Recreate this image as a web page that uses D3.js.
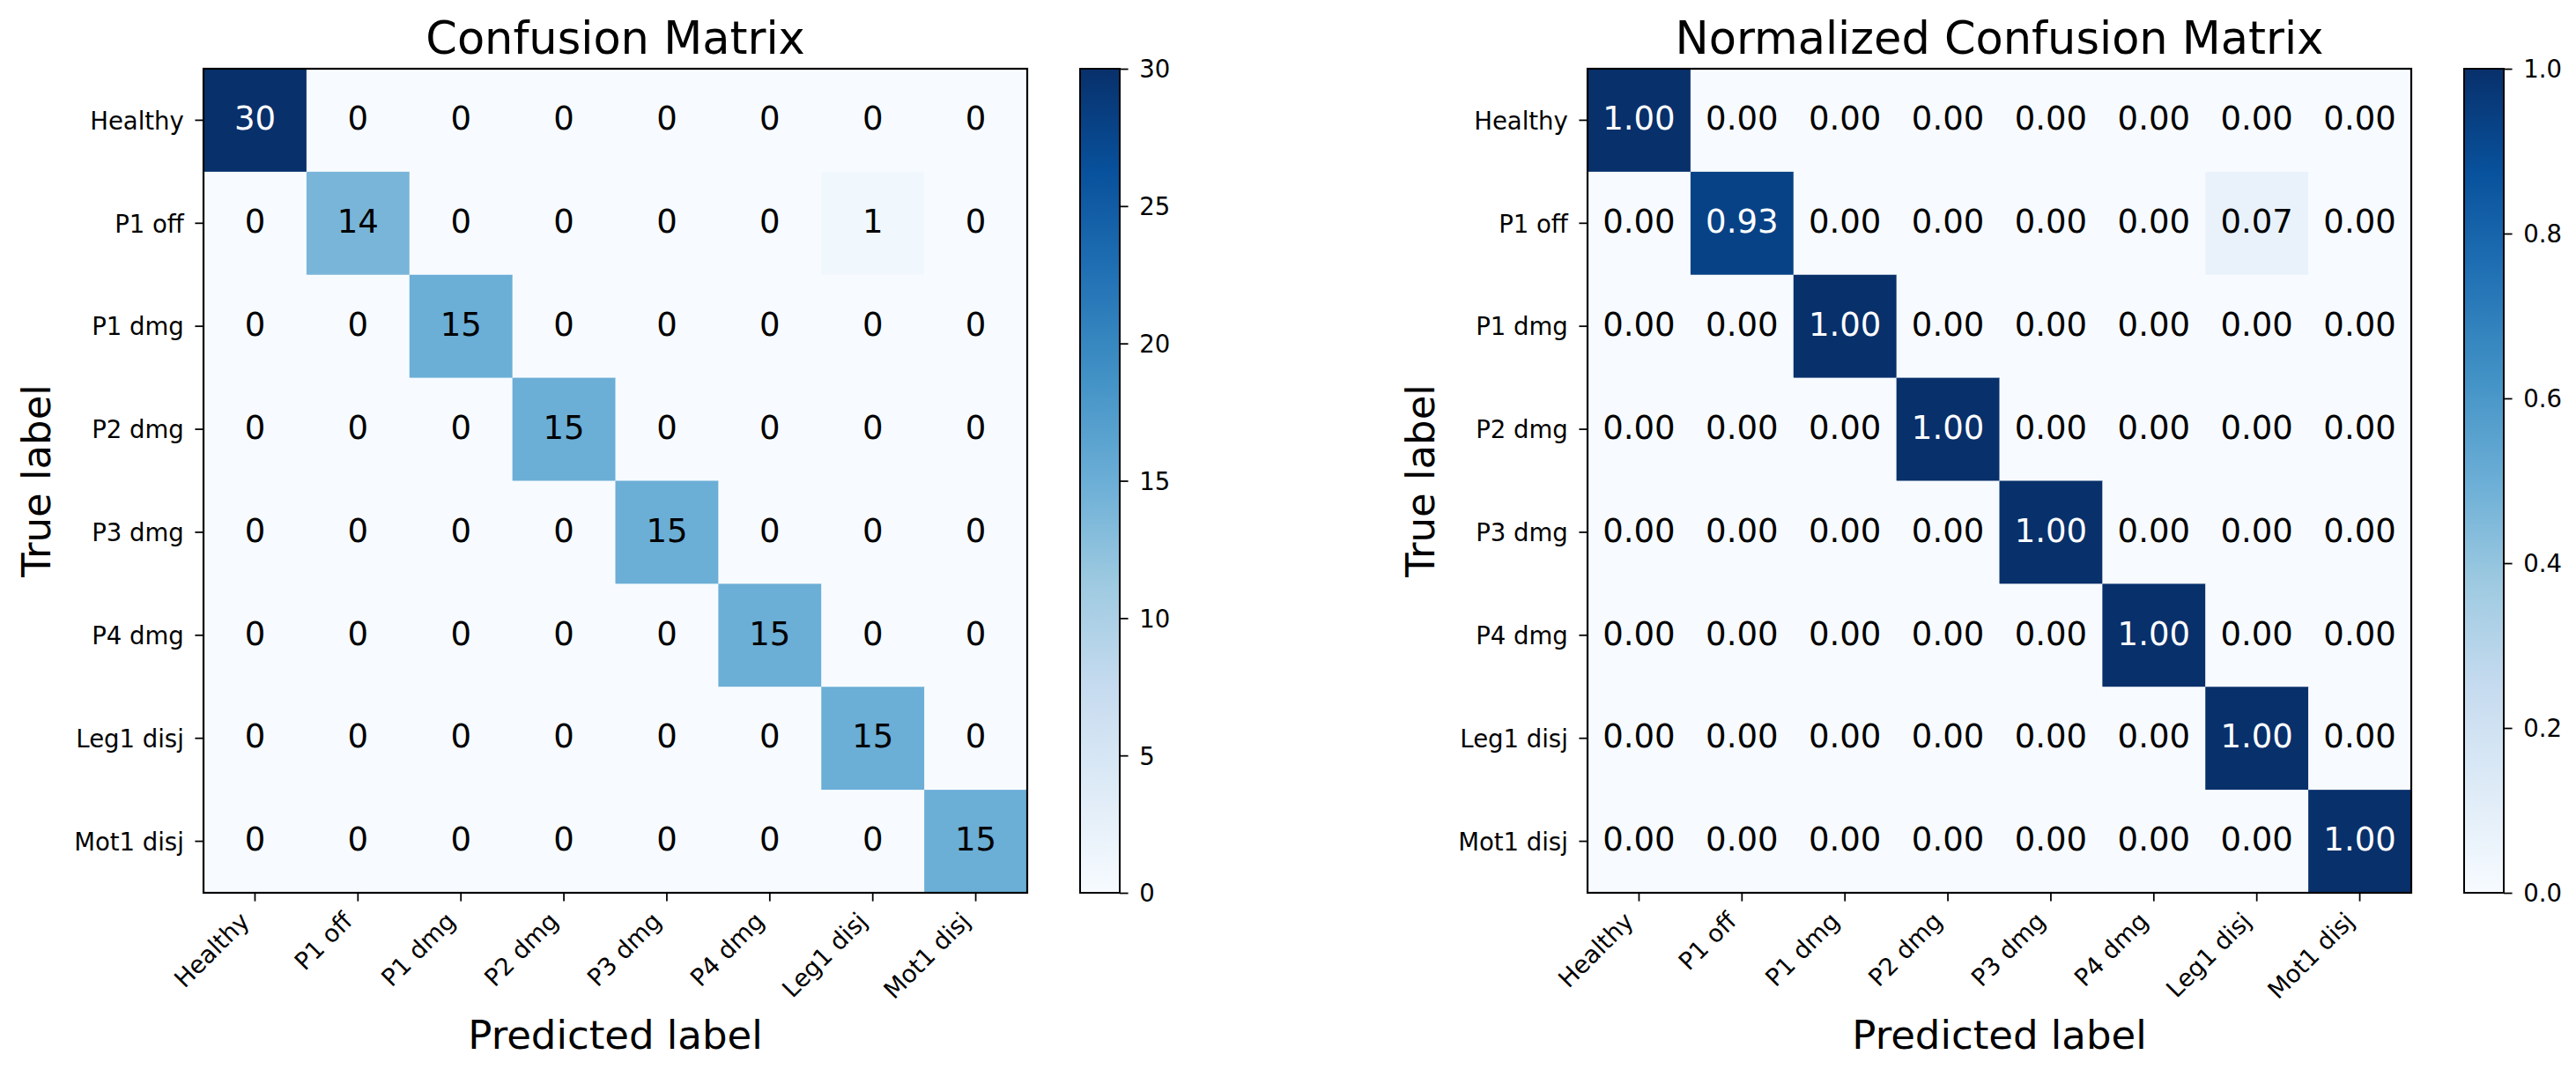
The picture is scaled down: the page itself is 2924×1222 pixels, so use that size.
<!DOCTYPE html>
<html>
<head>
<meta charset="utf-8">
<script src="https://cdn.jsdelivr.net/npm/d3@7"></script>
<style>
  html, body { margin: 0; padding: 0; background: #fff; }
  svg { display: block; }
  text { font-family: "DejaVu Sans", sans-serif; fill: #000; }
</style>
</head>
<body>
<script>
// ---------- data ----------
const classes = ["Healthy", "P1 off", "P1 dmg", "P2 dmg", "P3 dmg", "P4 dmg", "Leg1 disj", "Mot1 disj"];

const counts = [
  [30, 0, 0, 0, 0, 0, 0, 0],
  [0, 14, 0, 0, 0, 0, 1, 0],
  [0, 0, 15, 0, 0, 0, 0, 0],
  [0, 0, 0, 15, 0, 0, 0, 0],
  [0, 0, 0, 0, 15, 0, 0, 0],
  [0, 0, 0, 0, 0, 15, 0, 0],
  [0, 0, 0, 0, 0, 0, 15, 0],
  [0, 0, 0, 0, 0, 0, 0, 15]
];

const normalized = [
  [1.00, 0.00, 0.00, 0.00, 0.00, 0.00, 0.00, 0.00],
  [0.00, 0.93, 0.00, 0.00, 0.00, 0.00, 0.07, 0.00],
  [0.00, 0.00, 1.00, 0.00, 0.00, 0.00, 0.00, 0.00],
  [0.00, 0.00, 0.00, 1.00, 0.00, 0.00, 0.00, 0.00],
  [0.00, 0.00, 0.00, 0.00, 1.00, 0.00, 0.00, 0.00],
  [0.00, 0.00, 0.00, 0.00, 0.00, 1.00, 0.00, 0.00],
  [0.00, 0.00, 0.00, 0.00, 0.00, 0.00, 1.00, 0.00],
  [0.00, 0.00, 0.00, 0.00, 0.00, 0.00, 0.00, 1.00]
];

const countTicks = [0, 5, 10, 15, 20, 25, 30];
const normTicks = [0.0, 0.2, 0.4, 0.6, 0.8, 1.0];

const titles = ["Confusion Matrix", "Normalized Confusion Matrix"];
const xLabelText = "Predicted label";
const yLabelText = "True label";

// matplotlib "Blues" colormap anchor colours
const bluesStops = ["#f7fbff", "#deebf7", "#c6dbef", "#9ecae1", "#6baed6", "#4292c6", "#2171b5", "#08519c", "#08306b"];

// ---------- layout ----------
const WIDTH = 2924, HEIGHT = 1222;
const TOP = 78, BOTTOM = 1013;
const SIZE = BOTTOM - TOP;
const panels = [
  { left: 231, data: counts, vmax: 30, ticks: countTicks, fmtCell: d => d3.format("d")(d), fmtTick: d3.format("d"), title: titles[0], gid: "gradA" },
  { left: 1802, data: normalized, vmax: 1, ticks: normTicks, fmtCell: d => d3.format(".2f")(d), fmtTick: d3.format(".1f"), title: titles[1], gid: "gradB" }
];

const TICK_LEN = 9.6, TICK_PAD = 9.6;
const TICK_FS = 27.5, CELL_FS = 37, TITLE_FS = 51, LABEL_FS = 45;
const SPINE_W = 2.2;

const svg = d3.select("body").append("svg")
  .attr("width", WIDTH).attr("height", HEIGHT)
  .attr("viewBox", `0 0 ${WIDTH} ${HEIGHT}`);

const defs = svg.append("defs");

function blues(vmax) {
  const dom = bluesStops.map((_, i) => vmax * i / (bluesStops.length - 1));
  return d3.scaleLinear().domain(dom).range(bluesStops).interpolate(d3.interpolateRgb).clamp(true);
}

panels.forEach(p => {
  const g = svg.append("g").attr("transform", `translate(${p.left},${TOP})`);
  const x = d3.scaleBand().domain(classes).range([0, SIZE]);
  const y = d3.scaleBand().domain(classes).range([0, SIZE]);
  const color = blues(p.vmax);
  const thresh = p.vmax / 2;

  const cells = [];
  p.data.forEach((row, i) => row.forEach((v, j) => cells.push({ i, j, v })));

  g.selectAll("rect.cell").data(cells).join("rect")
    .attr("class", "cell")
    .attr("x", d => x(classes[d.j]))
    .attr("y", d => y(classes[d.i]))
    .attr("width", x.bandwidth() + 0.5)
    .attr("height", y.bandwidth() + 0.5)
    .attr("fill", d => color(d.v));

  g.selectAll("text.val").data(cells).join("text")
    .attr("class", "val")
    .attr("x", d => x(classes[d.j]) + x.bandwidth() / 2)
    .attr("y", d => y(classes[d.i]) + y.bandwidth() / 2)
    .attr("dy", "0.29em")
    .attr("text-anchor", "middle")
    .style("font-size", CELL_FS + "px")
    .style("fill", d => d.v > thresh ? "#ffffff" : "#000000")
    .text(d => p.fmtCell(d.v));

  // frame
  g.append("rect")
    .attr("x", 0).attr("y", 0).attr("width", SIZE).attr("height", SIZE)
    .attr("fill", "none").attr("stroke", "#000").attr("stroke-width", SPINE_W);

  // y axis
  const yAx = g.append("g").call(d3.axisLeft(y).tickSize(TICK_LEN).tickPadding(TICK_PAD + 3));
  yAx.select(".domain").remove();
  yAx.selectAll("line").attr("stroke", "#000").attr("stroke-width", SPINE_W * 0.8);
  yAx.selectAll("text")
    .attr("font-family", null)
    .attr("dy", "0.37em")
    .style("font-size", TICK_FS + "px")
    .style("fill", "#000");

  // x axis with rotated labels
  const xAx = g.append("g").attr("transform", `translate(0,${SIZE})`)
    .call(d3.axisBottom(x).tickSize(TICK_LEN));
  xAx.select(".domain").remove();
  xAx.selectAll("line").attr("stroke", "#000").attr("stroke-width", SPINE_W * 0.8);
  const asc = 0.76 * TICK_FS, desc = 0.24 * TICK_FS;
  xAx.selectAll("text")
    .attr("font-family", null)
    .attr("x", 0).attr("y", 0).attr("dy", 0)
    .attr("text-anchor", "end")
    .attr("transform", `translate(${-0.707 * desc},${TICK_LEN + TICK_PAD + 0.707 * asc}) rotate(-45)`)
    .style("font-size", TICK_FS + "px")
    .style("fill", "#000");

  // title
  g.append("text")
    .attr("x", SIZE / 2).attr("y", 61 - TOP)
    .attr("text-anchor", "middle")
    .style("font-size", TITLE_FS + "px")
    .text(p.title);

  // axis labels
  g.append("text")
    .attr("x", SIZE / 2).attr("y", 1190 - TOP)
    .attr("text-anchor", "middle")
    .style("font-size", LABEL_FS + "px")
    .text(xLabelText);

  g.append("text")
    .attr("transform", `translate(${57 - 231},${SIZE / 2}) rotate(-90)`)
    .attr("text-anchor", "middle")
    .style("font-size", LABEL_FS + "px")
    .text(yLabelText);

  // colorbar
  const cbX = SIZE + 60, cbW = 45;
  const grad = defs.append("linearGradient").attr("id", p.gid)
    .attr("x1", 0).attr("y1", 1).attr("x2", 0).attr("y2", 0);
  grad.selectAll("stop").data(bluesStops).join("stop")
    .attr("offset", (d, i) => i / (bluesStops.length - 1))
    .attr("stop-color", d => d);

  const cb = g.append("g").attr("transform", `translate(${cbX},0)`);
  cb.append("rect").attr("width", cbW).attr("height", SIZE).attr("fill", `url(#${p.gid})`);
  cb.append("rect").attr("width", cbW).attr("height", SIZE)
    .attr("fill", "none").attr("stroke", "#000").attr("stroke-width", SPINE_W * 0.9);

  const cScale = d3.scaleLinear().domain([0, p.vmax]).range([SIZE, 0]);
  const cAx = cb.append("g").attr("transform", `translate(${cbW},0)`)
    .call(d3.axisRight(cScale).tickValues(p.ticks).tickFormat(p.fmtTick).tickSize(TICK_LEN).tickPadding(TICK_PAD + 3));
  cAx.select(".domain").remove();
  cAx.selectAll("line").attr("stroke", "#000").attr("stroke-width", SPINE_W * 0.8);
  cAx.selectAll("text")
    .attr("font-family", null)
    .attr("dy", "0.36em")
    .style("font-size", TICK_FS + "px")
    .style("fill", "#000");
});
</script>
</body>
</html>
